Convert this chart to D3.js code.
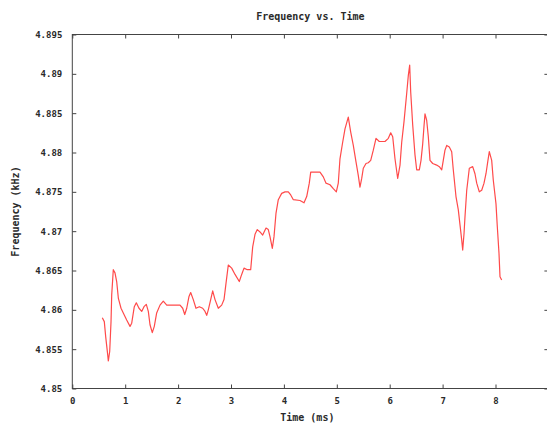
<!DOCTYPE html>
<html>
<head>
<meta charset="utf-8">
<script src="https://cdn.jsdelivr.net/npm/d3@7"></script>
<style>
  html, body { margin: 0; padding: 0; background: #fff; }
  svg { display: block; }
  text { font-family: "DejaVu Sans Mono", "Liberation Mono", monospace; font-weight: bold; fill: #2a2a2a; }
</style>
</head>
<body>
<svg id="chart" width="547" height="426"></svg>
<script>
const title = "Frequency vs. Time";
const xLabel = "Time (ms)";
const yLabel = "Frequency (kHz)";
const xTicks = [0, 1, 2, 3, 4, 5, 6, 7, 8];
const yTicks = [4.85, 4.855, 4.86, 4.865, 4.87, 4.875, 4.88, 4.885, 4.89, 4.895];
const yTickLabels = ["4.85", "4.855", "4.86", "4.865", "4.87", "4.875", "4.88", "4.885", "4.89", "4.895"];

const time = [0.567,0.605,0.631,0.669,0.681,0.707,0.732,0.745,0.775,0.807,0.839,0.870,0.921,0.964,1.028,1.091,1.123,1.172,1.210,1.261,1.312,1.355,1.399,1.437,1.469,1.512,1.550,1.595,1.658,1.720,1.785,2.036,2.087,2.125,2.163,2.206,2.238,2.287,2.338,2.401,2.465,2.509,2.541,2.571,2.616,2.654,2.698,2.760,2.824,2.868,2.906,2.949,3.013,3.076,3.157,3.202,3.246,3.308,3.372,3.410,3.454,3.497,3.548,3.599,3.662,3.705,3.737,3.781,3.813,3.851,3.894,3.958,4.021,4.083,4.129,4.178,4.304,4.380,4.431,4.480,4.507,4.682,4.745,4.796,4.871,4.934,4.991,5.028,5.060,5.111,5.155,5.217,5.263,5.312,5.363,5.406,5.438,5.471,5.501,5.552,5.595,5.641,5.690,5.741,5.803,5.911,5.974,6.019,6.057,6.100,6.151,6.195,6.227,6.270,6.321,6.352,6.378,6.397,6.435,6.478,6.510,6.560,6.592,6.624,6.648,6.667,6.699,6.730,6.762,6.813,6.888,6.938,6.983,7.013,7.045,7.078,7.127,7.172,7.202,7.253,7.297,7.329,7.361,7.380,7.405,7.423,7.456,7.505,7.569,7.612,7.645,7.694,7.739,7.783,7.820,7.853,7.883,7.928,7.958,8.009,8.034,8.066,8.085,8.117];
const freq = [4.8590,4.8585,4.8566,4.8543,4.8535,4.8547,4.8585,4.8619,4.8651,4.8647,4.8636,4.8615,4.8602,4.8596,4.8587,4.8579,4.8583,4.8604,4.8609,4.8602,4.8598,4.8604,4.8607,4.8598,4.8581,4.8571,4.8579,4.8596,4.8606,4.8611,4.8606,4.8606,4.8602,4.8594,4.8602,4.8617,4.8622,4.8613,4.8602,4.8604,4.8602,4.8598,4.8593,4.8600,4.8613,4.8624,4.8613,4.8602,4.8606,4.8613,4.8634,4.8657,4.8653,4.8645,4.8636,4.8645,4.8653,4.8651,4.8651,4.8680,4.8696,4.8702,4.8699,4.8695,4.8704,4.8702,4.8693,4.8678,4.8693,4.8723,4.8740,4.8748,4.8750,4.8750,4.8746,4.8740,4.8739,4.8736,4.8744,4.8761,4.8775,4.8775,4.8769,4.8761,4.8759,4.8754,4.8750,4.8761,4.8792,4.8813,4.8830,4.8845,4.8826,4.8809,4.8788,4.8771,4.8756,4.8767,4.8780,4.8786,4.8787,4.8790,4.8803,4.8818,4.8814,4.8814,4.8818,4.8825,4.8820,4.8792,4.8767,4.8784,4.8813,4.8839,4.8875,4.8898,4.8911,4.8877,4.8835,4.8797,4.8778,4.8778,4.8790,4.8811,4.8833,4.8849,4.8841,4.8820,4.8790,4.8786,4.8784,4.8782,4.8778,4.8790,4.8803,4.8809,4.8807,4.8801,4.8778,4.8744,4.8727,4.8708,4.8689,4.8676,4.8697,4.8718,4.8752,4.8780,4.8782,4.8773,4.8761,4.8750,4.8752,4.8761,4.8773,4.8788,4.8801,4.8790,4.8765,4.8735,4.8706,4.8672,4.8642,4.8638];

const svg = d3.select("#chart");
const mLeft = 72.3, mRight = 548.4, mTop = 34.5, mBottom = 388.5;

const x = d3.scaleLinear().domain([0, 9]).range([mLeft, mRight]);
const y = d3.scaleLinear().domain([4.85, 4.895]).range([mBottom, mTop]);

// frame
svg.append("rect")
  .attr("x", mLeft).attr("y", mTop)
  .attr("width", mRight - mLeft).attr("height", mBottom - mTop)
  .attr("fill", "none").attr("stroke", "#444").attr("stroke-width", 1);

const styleAxis = g => {
  g.select(".domain").remove();
  g.selectAll(".tick line").attr("stroke", "#444");
  g.selectAll(".tick text").attr("font-size", "9px").attr("fill", "#2a2a2a");
};

// bottom axis (inward ticks)
svg.append("g")
  .attr("transform", `translate(0,${mBottom})`)
  .call(d3.axisBottom(x).tickValues(xTicks).tickSize(-4).tickPadding(9).tickFormat(d3.format("d")))
  .call(styleAxis);

// top axis mirrored ticks (no labels)
svg.append("g")
  .attr("transform", `translate(0,${mTop})`)
  .call(d3.axisTop(x).tickValues(xTicks).tickSize(-4).tickFormat(""))
  .call(styleAxis);

// left axis
svg.append("g")
  .attr("transform", `translate(${mLeft},0)`)
  .call(d3.axisLeft(y).tickValues(yTicks).tickSize(-4).tickPadding(10)
    .tickFormat((d, i) => yTickLabels[i]))
  .call(styleAxis);

// right axis mirrored ticks
svg.append("g")
  .attr("transform", `translate(${mRight},0)`)
  .call(d3.axisRight(y).tickValues(yTicks).tickSize(-4).tickFormat(""))
  .call(styleAxis);

// line
const data = time.map((t, i) => ({ t, f: freq[i] }));
svg.append("path")
  .datum(data)
  .attr("fill", "none")
  .attr("stroke", "#ff4a4a")
  .attr("stroke-width", 1.2)
  .attr("stroke-linejoin", "round")
  .attr("d", d3.line().x(d => x(d.t)).y(d => y(d.f)));

// title & labels
svg.append("text")
  .attr("x", (mLeft + mRight) / 2).attr("y", 20)
  .attr("text-anchor", "middle").attr("font-size", "10px")
  .text(title);

svg.append("text")
  .attr("x", (mLeft + mRight) / 2 - 3).attr("y", 421)
  .attr("text-anchor", "middle").attr("font-size", "10px")
  .text(xLabel);

svg.append("text")
  .attr("transform", `translate(19,${(mTop + mBottom) / 2}) rotate(-90)`)
  .attr("text-anchor", "middle").attr("font-size", "10px")
  .text(yLabel);
</script>
</body>
</html>
